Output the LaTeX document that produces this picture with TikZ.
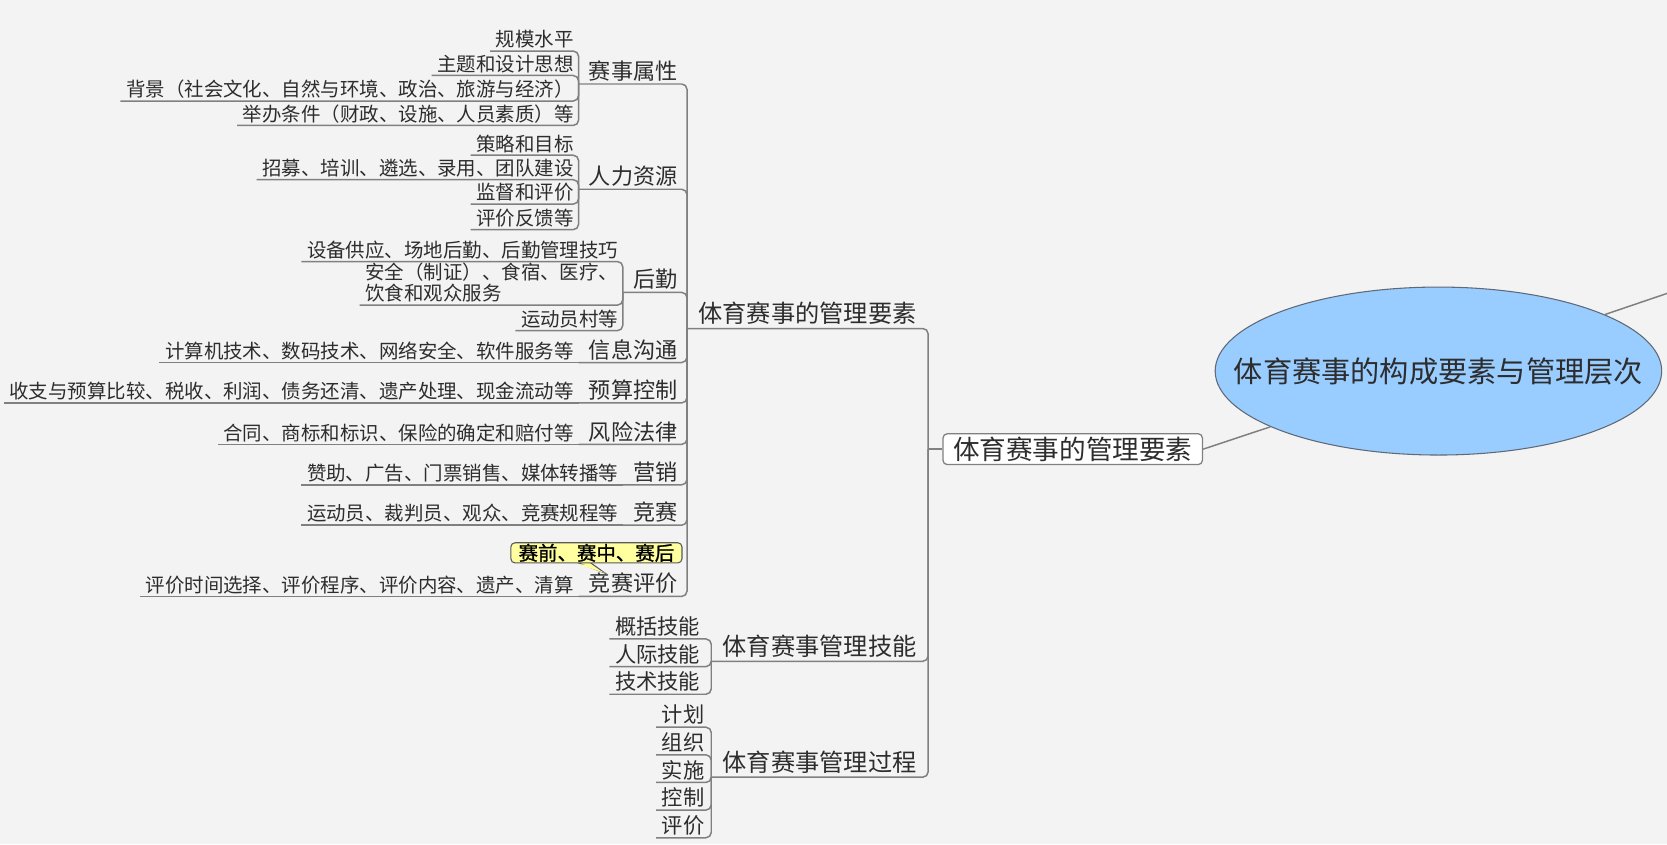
\documentclass[tikz,border=0pt]{standalone}
\usepackage{fontspec}
\setmainfont{Noto Sans CJK SC}
\newfontfamily\notefont[FakeBold=1.2]{Noto Sans CJK SC}
\usepackage{tikz}
\usetikzlibrary{shapes.geometric,calc}
\definecolor{mmbg}{RGB}{243,243,243}
\definecolor{mmline}{RGB}{128,128,128}
\definecolor{mmtext}{RGB}{45,45,45}
\definecolor{mmroot}{RGB}{153,204,255}
\definecolor{mmrootline}{RGB}{95,105,120}
\definecolor{mmnote}{RGB}{255,255,160}
\tikzset{
  centre/.style={ellipse, draw=mmrootline, fill=mmroot, line width=0.5pt, minimum width=210pt, minimum height=79pt, inner sep=0pt, text=mmtext, font=\fontsize{13.75}{16}\selectfont},
  branch/.style={draw=mmline, fill=white, rounded corners=2pt, line width=0.6pt, minimum width=122pt, minimum height=14.5pt, inner sep=1pt, text=mmtext, font=\fontsize{12.5}{14}\selectfont},
  topic/.style={anchor=south east, inner xsep=5.2pt, inner ysep=1.5pt, text=mmtext, font=\fontsize{11.4}{13}\selectfont},
  subtopic/.style={anchor=south east, inner xsep=4.7pt, inner ysep=1pt, text=mmtext, font=\fontsize{10.4}{12}\selectfont},
  leaf/.style={anchor=south east, inner xsep=2.5pt, inner ysep=1pt, text=mmtext, font=\fontsize{9.15}{10}\selectfont},
  stage/.style={anchor=south east, inner xsep=2.5pt, inner ysep=1pt, text=mmtext, font=\fontsize{10}{12}\selectfont},
  callout/.style={draw=black!65, fill=mmnote, rounded corners=2pt, line width=0.5pt, minimum width=80.5pt, minimum height=9pt, inner sep=0.5pt, text=black, font=\notefont\fontsize{9.15}{10}\selectfont},
  callouttail/.style={draw=black!65, fill=mmnote, line width=0.5pt},
  conn/.style={draw=mmline, line width=0.7pt, rounded corners=2.5pt}
}
\begin{document}
\begin{tikzpicture}[x=0.5pt,y=-0.5pt]
\fill[mmbg] (0,0) rectangle (1568,794);
\useasboundingbox (0,0) rectangle (1568,794);

\node[centre] (root) at (1353,349) {\makebox[0pt]{体育赛事的构成要素与管理层次}};
\node[branch] (mgmt) at (1009,422.5) {体育赛事的管理要素};
\coordinate (hub) at (873,422.5);
\coordinate (away) at (1568,276);

\node[topic] (elem) at (873,309) {体育赛事的管理要素};
\node[topic] (skill) at (873,622) {体育赛事管理技能};
\node[topic] (proc) at (873,731) {体育赛事管理过程};

\node[subtopic] (attr) at (647,79) {赛事属性};
\node[subtopic] (hr) at (647,178) {人力资源};
\node[subtopic] (logi) at (647,275) {后勤};
\node[subtopic] (info) at (647,341) {信息沟通};
\node[subtopic] (budget) at (647,379) {预算控制};
\node[subtopic] (risk) at (647,418) {风险法律};
\node[subtopic] (mkt) at (647,456) {营销};
\node[subtopic] (comp) at (647,494) {竞赛};
\node[subtopic] (eval) at (647,561) {竞赛评价};

\node[leaf] (attr1) at (545,48) {规模水平};
\node[leaf] (attr2) at (545,71) {主题和设计思想};
\node[leaf] (attr3) at (545,95) {背景（社会文化、自然与环境、政治、旅游与经济）};
\node[leaf] (attr4) at (545,118) {举办条件（财政、设施、人员素质）等};
\node[leaf] (hr1) at (545,146) {策略和目标};
\node[leaf] (hr2) at (545,169) {招募、培训、遴选、录用、团队建设};
\node[leaf] (hr3) at (545,192) {监督和评价};
\node[leaf] (hr4) at (545,216) {评价反馈等};
\node[leaf] (logi1) at (587,246) {设备供应、场地后勤、后勤管理技巧};
\node[leaf, align=left] (logi2) at (587,287) {安全（制证）、食宿、医疗、\\饮食和观众服务};
\node[leaf] (logi3) at (587,311) {运动员村等};
\node[leaf] (info1) at (545,341) {计算机技术、数码技术、网络安全、软件服务等};
\node[leaf] (budget1) at (545,379) {收支与预算比较、税收、利润、债务还清、遗产处理、现金流动等};
\node[leaf] (risk1) at (545,418) {合同、商标和标识、保险的确定和赔付等};
\node[leaf] (mkt1) at (587,456) {赞助、广告、门票销售、媒体转播等};
\node[leaf] (comp1) at (587,494) {运动员、裁判员、观众、竞赛规程等};
\node[leaf] (eval1) at (545,561) {评价时间选择、评价程序、评价内容、遗产、清算};

\node[stage] (skill1) at (664,601) {概括技能};
\node[stage] (skill2) at (664,627) {人际技能};
\node[stage] (skill3) at (664,653) {技术技能};
\node[stage] (proc1) at (668,684) {计划};
\node[stage] (proc2) at (668,710) {组织};
\node[stage] (proc3) at (668,736) {实施};
\node[stage] (proc4) at (668,762) {控制};
\node[stage] (proc5) at (668,788) {评价};

\coordinate (tip) at (569,539);
\filldraw[callouttail] ($(561,529)+(-18,0)$) -- (tip) -- ($(561,529)+(-6,0)$);
\node[callout] (note) at (561,520) {赛前、赛中、赛后};
\fill[mmnote] ($(note.south)+(-17,0.8)$) -- (tip) -- ($(note.south)+(-7,0.8)$) -- cycle;

\draw[conn] (root) -- (mgmt.east);
\draw[conn] (root) -- (away);
\draw[conn] (mgmt.west) -- (hub);
\draw[conn] (hub) |- (elem.south west);
\draw[conn] (hub) |- (skill.south west);
\draw[conn] (hub) |- (proc.south west);

\draw[conn] (elem.south west) |- (attr.south west);
\draw[conn] (elem.south west) |- (hr.south west);
\draw[conn] (elem.south west) |- (logi.south west);
\draw[conn] (elem.south west) |- (info.south west);
\draw[conn] (elem.south west) |- (budget.south west);
\draw[conn] (elem.south west) |- (risk.south west);
\draw[conn] (elem.south west) |- (mkt.south west);
\draw[conn] (elem.south west) |- (comp.south west);
\draw[conn] (elem.south west) |- (eval.south west);

\draw[conn] (attr.south west) |- (attr1.south west);
\draw[conn] (attr.south west) |- (attr2.south west);
\draw[conn] (attr.south west) |- (attr3.south west);
\draw[conn] (attr.south west) |- (attr4.south west);
\draw[conn] (hr.south west) |- (hr1.south west);
\draw[conn] (hr.south west) |- (hr2.south west);
\draw[conn] (hr.south west) |- (hr3.south west);
\draw[conn] (hr.south west) |- (hr4.south west);
\draw[conn] (logi.south west) |- (logi1.south west);
\draw[conn] (logi.south west) |- (logi2.south west);
\draw[conn] (logi.south west) |- (logi3.south west);
\draw[conn] (info.south west) -- (info1.south west);
\draw[conn] (budget.south west) -- (budget1.south west);
\draw[conn] (risk.south west) -- (risk1.south west);
\draw[conn] (mkt.south west) -- (mkt1.south west);
\draw[conn] (comp.south west) -- (comp1.south west);
\draw[conn] (eval.south west) -- (eval1.south west);

\draw[conn] (skill.south west) |- (skill1.south west);
\draw[conn] (skill.south west) |- (skill2.south west);
\draw[conn] (skill.south west) |- (skill3.south west);
\draw[conn] (proc.south west) |- (proc1.south west);
\draw[conn] (proc.south west) |- (proc2.south west);
\draw[conn] (proc.south west) |- (proc3.south west);
\draw[conn] (proc.south west) |- (proc4.south west);
\draw[conn] (proc.south west) |- (proc5.south west);
\end{tikzpicture}
\end{document}
